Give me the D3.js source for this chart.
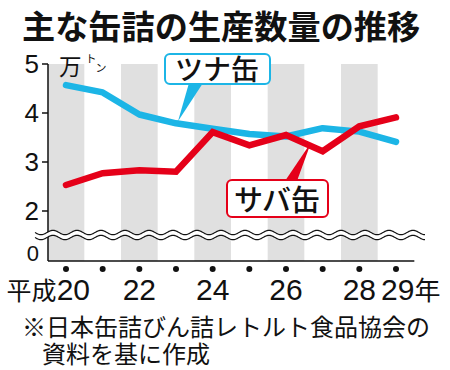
<!DOCTYPE html>
<html><head><meta charset="utf-8">
<script src="https://cdn.jsdelivr.net/npm/d3@7"></script>
<style>
html,body{margin:0;padding:0;background:#fff;}
svg{display:block;}
</style></head>
<body>
<svg id="c" width="450" height="370"></svg>
<script>
const years = [20,21,22,23,24,25,26,27,28,29];
const tuna  = [4.57,4.42,3.97,3.79,3.68,3.57,3.52,3.69,3.62,3.41];
const saba  = [2.53,2.77,2.83,2.80,3.61,3.34,3.55,3.22,3.73,3.91];
const yTicks = [2,3,4,5];
const labeledYears = [20,22,24,26,28,29];
const title = "主な缶詰の生産数量の推移";
const note1 = "※日本缶詰びん詰レトルト食品協会の";
const note2 = "資料を基に作成";

const BLUE = "#1cb5e6", RED = "#e50019", GRAY = "#e0e0e0";
const jp = "'Noto Sans CJK JP', sans-serif";
const num = "'Liberation Sans', Arial, sans-serif";

const svg = d3.select("#c");
const x = d3.scaleLinear().domain([20,29]).range([66,396]);
const step = x(21) - x(20);
const y = d3.scaleLinear().domain([0,1.5,5]).range([261,235.5,64]);
const left = 48, right = x(29) + step/2;

// title
svg.append("text").attr("x",22).attr("y",38.5).attr("font-family",jp).attr("font-weight",700)
  .attr("font-size",33.2).attr("fill","#111").text(title);

// bands
svg.append("g").selectAll("rect").data(years.filter(d => d % 2 === 0)).join("rect")
  .attr("x", d => x(d) - step/2).attr("width", step)
  .attr("y", y(5)).attr("height", y(0) - y(5)).attr("fill", GRAY);

// axes
svg.append("line").attr("x1",left).attr("x2",left).attr("y1",y(5)).attr("y2",y(0))
  .attr("stroke","#111").attr("stroke-width",1.5);
svg.append("line").attr("x1",left).attr("x2",right).attr("y1",y(0)).attr("y2",y(0))
  .attr("stroke","#111").attr("stroke-width",1.5);
svg.append("g").selectAll("line").data(yTicks).join("line")
  .attr("x1",left-6).attr("x2",left).attr("y1",d=>y(d)).attr("y2",d=>y(d))
  .attr("stroke","#111").attr("stroke-width",1.5);
svg.append("g").selectAll("text").data(yTicks).join("text")
  .attr("x",39).attr("y",d=>y(d)+9).attr("text-anchor","end")
  .attr("font-family",num).attr("font-size",26).attr("fill","#111").text(d=>d);
svg.append("text").attr("x",39).attr("y",y(0)).attr("text-anchor","end")
  .attr("font-family",num).attr("font-size",22).attr("fill","#111").text("0");

// unit
const u = svg.append("text").attr("x",59).attr("y",75).attr("font-family",jp).attr("fill","#111");
u.append("tspan").attr("font-size",22.5).text("万");
u.append("tspan").attr("font-size",11).attr("dx",4).attr("dy",-12).text("ト");
u.append("tspan").attr("font-size",11).attr("dx",-1).attr("dy",9).text("ン");

// break (wavy)
function wave(off){
  return d3.range(35, 426, 1).map(px => [px, off + 2.2*Math.sin((px-35)/24*2*Math.PI)]);
}
const w1 = wave(232.5), w2 = wave(237.5);
svg.append("path").attr("d", d3.line()(w1.concat(w2.slice().reverse())) + "Z").attr("fill","#fff");
svg.append("path").attr("d", d3.line()(w1)).attr("fill","none").attr("stroke","#111").attr("stroke-width",1.2);
svg.append("path").attr("d", d3.line()(w2)).attr("fill","none").attr("stroke","#111").attr("stroke-width",1.2);

// lines
const line = d3.line().x((d,i)=>x(years[i])).y(d=>y(d));
svg.append("path").attr("d", line(tuna)).attr("fill","none").attr("stroke",BLUE)
  .attr("stroke-width",6.5).attr("stroke-linejoin","round").attr("stroke-linecap","round");
svg.append("path").attr("d", line(saba)).attr("fill","none").attr("stroke",RED)
  .attr("stroke-width",6.5).attr("stroke-linejoin","miter").attr("stroke-linecap","round");

// callout tuna
svg.append("path").attr("d", d3.line()([[189,83],[203,83],[x(23)+2,y(3.79)-2]])+"Z").attr("fill",BLUE);
svg.append("rect").attr("x",165).attr("y",54).attr("width",105).attr("height",30).attr("rx",5)
  .attr("fill","#fff").attr("stroke",BLUE).attr("stroke-width",2);
svg.append("text").attr("x",217).attr("y",80).attr("text-anchor","middle").attr("font-family",jp)
  .attr("font-weight",500).attr("font-size",28).attr("fill","#111").text("ツナ缶");

// callout saba
svg.append("path").attr("d", d3.line()([[285,181],[297,181],[x(26)+25,y(3.4)]])+"Z").attr("fill",RED);
svg.append("rect").attr("x",227).attr("y",180).attr("width",101).attr("height",37).attr("rx",5)
  .attr("fill","#fff").attr("stroke",RED).attr("stroke-width",2);
svg.append("text").attr("x",277).attr("y",211).attr("text-anchor","middle").attr("font-family",jp)
  .attr("font-weight",500).attr("font-size",29).attr("fill","#111").text("サバ缶");

// year dots
svg.append("g").selectAll("circle").data(years).join("circle")
  .attr("cx",d=>x(d)).attr("cy",269).attr("r",3).attr("fill","#111");

// x labels
const xl = svg.append("g").attr("font-size",30).attr("fill","#111");
labeledYears.forEach(d => {
  if (d === 20) {
    const t = xl.append("text").attr("x",x(d)+24).attr("y",300).attr("text-anchor","end");
    t.append("tspan").attr("font-family",jp).attr("font-size",25).text("平成");
    t.append("tspan").attr("font-family",num).text(d);
  } else if (d === 29) {
    const t = xl.append("text").attr("x",x(d)-15).attr("y",300);
    t.append("tspan").attr("font-family",num).text(d);
    t.append("tspan").attr("font-family",jp).attr("font-size",26).text("年");
  } else {
    xl.append("text").attr("x",x(d)).attr("y",300).attr("text-anchor","middle")
      .attr("font-family",num).text(d);
  }
});

// footnote
const fn = svg.append("text").attr("font-family",jp).attr("font-size",24).attr("fill","#111");
fn.append("tspan").attr("x",22).attr("y",336).text(note1);
fn.append("tspan").attr("x",42).attr("y",363).text(note2);
</script>
</body></html>
